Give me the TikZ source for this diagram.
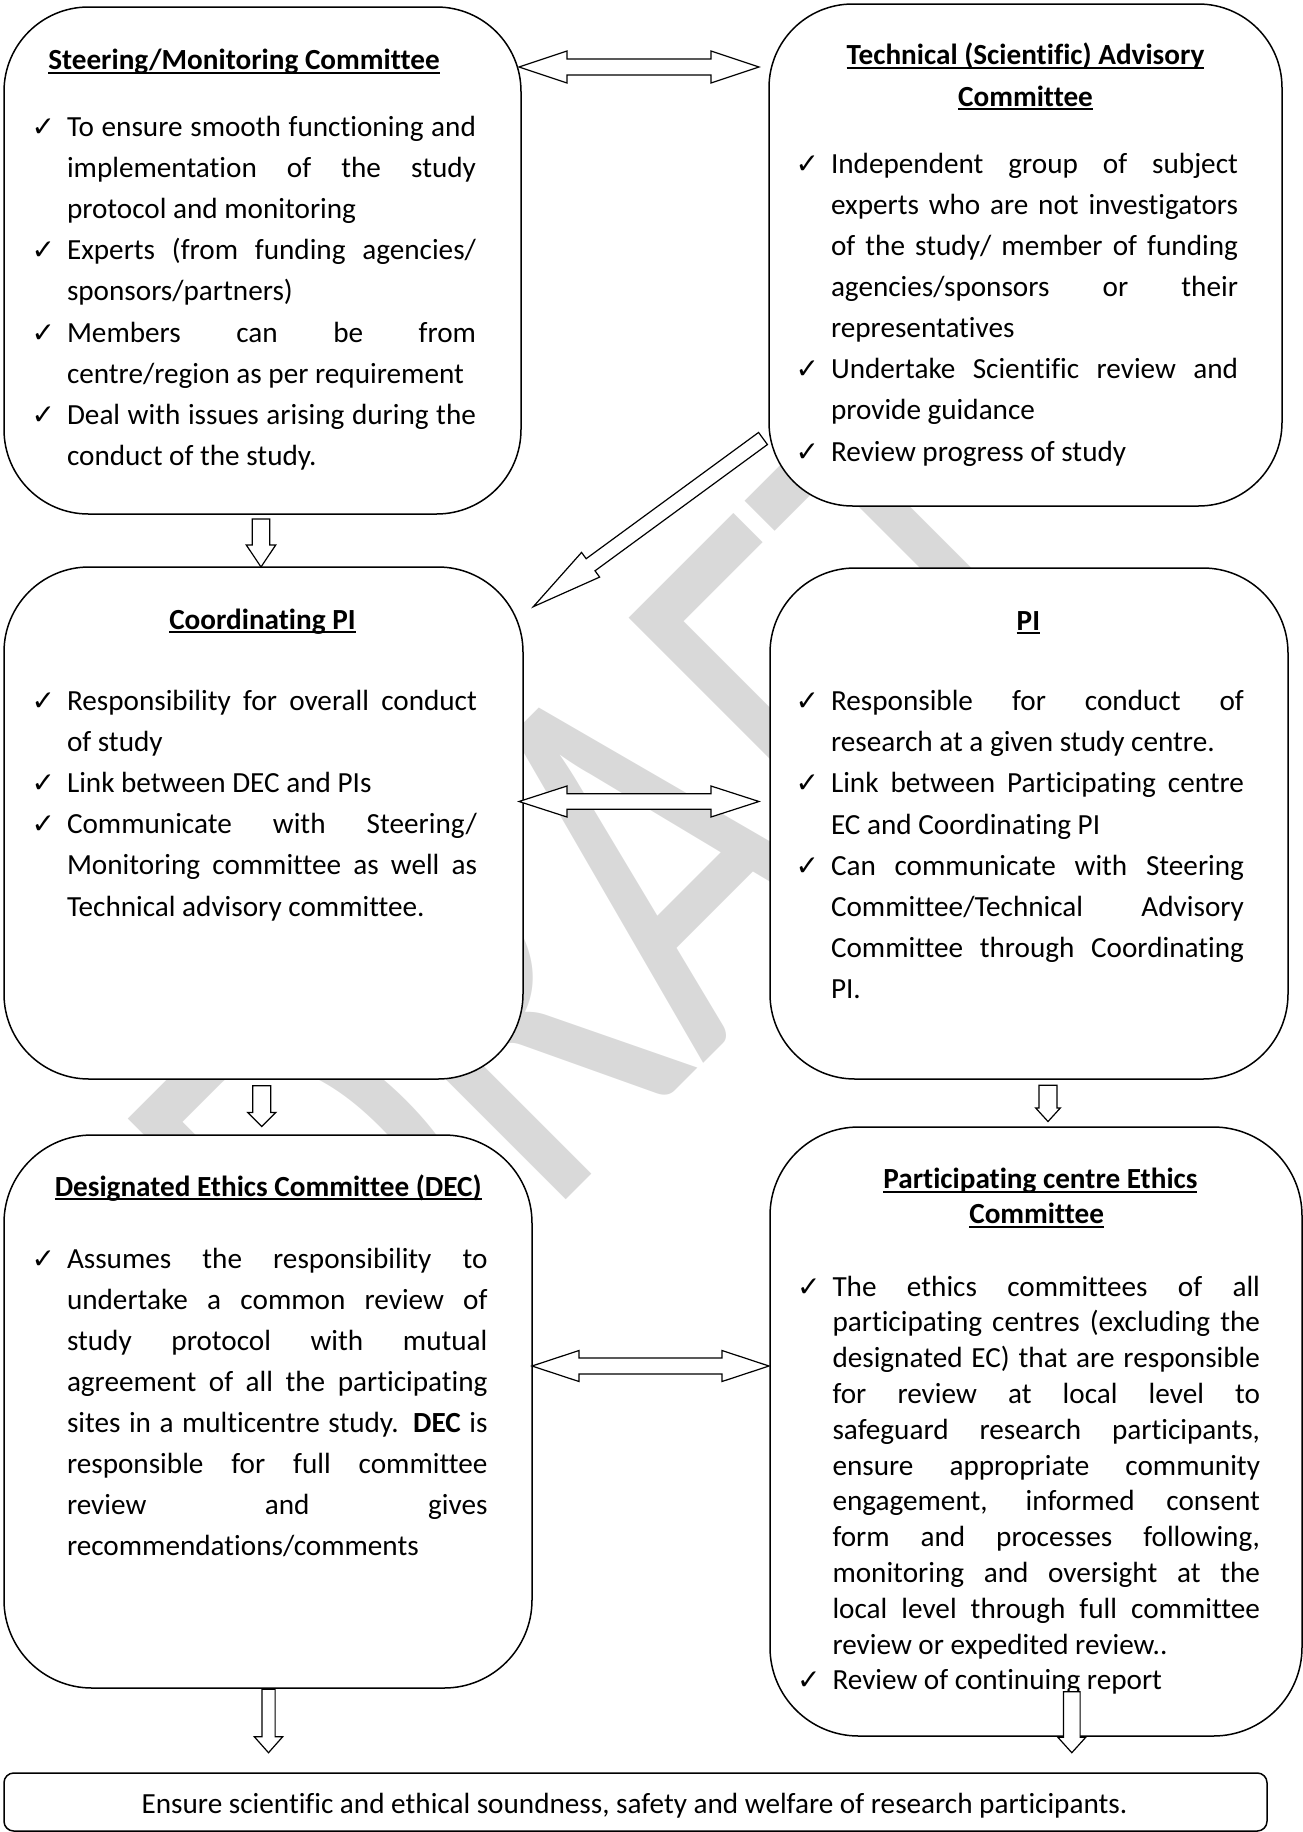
\documentclass[tikz,border=0pt]{standalone}
\usepackage{fontspec}
\setmainfont{Carlito}[Ligatures=NoCommon]
\newfontfamily\symf{DejaVu Sans}
\usetikzlibrary{calc}
\definecolor{wm}{RGB}{217,217,217}
\newdimen\tw
\newcommand\justln[1]{\hbox to\tw{#1}}
\newcommand\lastln[1]{\hbox{#1}}
\newcommand\ck{\llap{{\symf\fontsize{28}{28}\selectfont ✓}\hskip12pt}}
\newcommand\uline[1]{\setbox0=\hbox{#1}\rlap{\rule[-4.2pt]{\wd0}{2pt}}\box0}
\newcommand\itemsbox[3]{\vtop{\tw=#1\baselineskip=#2\lineskiplimit=-1000pt\lineskip=0pt #3}}
% single block arrow: tail, tip, shaft half width, head half width, head length
\newcommand\sarrow[5]{%
  \coordinate (sab) at ($(#2)!#5!(#1)$);
  \draw[blk] ($(#1)!#3!90:(#2)$) -- ($(sab)!#3!-90:(#1)$) -- ($(sab)!#4!-90:(#1)$) -- (#2)
    -- ($(sab)!#4!90:(#1)$) -- ($(sab)!#3!90:(#1)$) -- ($(#1)!#3!-90:(#2)$) -- cycle;}
% double block arrow: end 1, end 2, shaft half width, head half width, head length
\newcommand\darrow[5]{%
  \coordinate (da1) at ($(#1)!#5!(#2)$);
  \coordinate (da2) at ($(#2)!#5!(#1)$);
  \draw[blk] (#1) -- ($(da1)!#4!90:(#2)$) -- ($(da1)!#3!90:(#2)$) -- ($(da2)!#3!-90:(#1)$)
    -- ($(da2)!#4!-90:(#1)$) -- (#2) -- ($(da2)!#4!90:(#1)$) -- ($(da2)!#3!90:(#1)$)
    -- ($(da1)!#3!-90:(#2)$) -- ($(da1)!#4!-90:(#2)$) -- cycle;}
\tikzset{
  box/.style={draw, line width=1.5pt, fill=white, inner sep=0pt, outer sep=0pt, anchor=north west},
  txt/.style={inner sep=0pt, outer sep=0pt, font=\fontsize{29.2}{35.6}\selectfont},
  ttl/.style={txt, anchor=base, font=\fontsize{29.2}{35.6}\selectfont\bfseries},
  lst/.style={txt, anchor=base west},
  blk/.style={draw, fill=white, line width=1.2pt, line join=miter},
}
\begin{document}
\begin{tikzpicture}[x=1pt,y=-1pt]
\useasboundingbox (0,0) rectangle (1303,1832);
% watermark
\node[rotate=45, anchor=base west, inner sep=0pt, text=wm, font=\fontsize{408}{408}\selectfont] (wmk) at (368,1398.5) {\scalebox{1}[1.404]{DRAFT}};
% boxes
\node[box, minimum width=517pt, minimum height=507pt, rounded corners=84.5pt] (b1) at (4,7) {};
\node[box, minimum width=513pt, minimum height=502pt, rounded corners=83.7pt] (b2) at (769,4) {};
\node[box, minimum width=519pt, minimum height=512pt, rounded corners=85pt] (b3) at (4,567) {};
\node[box, minimum width=518pt, minimum height=511pt, rounded corners=85pt] (b4) at (770,568) {};
\node[box, minimum width=528pt, minimum height=553pt, rounded corners=88pt] (b5) at (4,1135) {};
\node[box, minimum width=532pt, minimum height=609pt, rounded corners=88.7pt] (b6) at (770,1127) {};
\node[box, minimum width=1263pt, minimum height=58pt, rounded corners=9.7pt] (b7) at (4,1773) {};
% titles
\node[ttl] (t1) at (244,69.5) {\uline{Steering/Monitoring Committee}};
\node[ttl] (t2a) at (1025.5,64.5) {\uline{Technical (Scientific) Advisory}};
\node[ttl] (t2b) at (1025.5,106) {\uline{Committee}};
\node[ttl] (t3) at (262.4,629) {\uline{Coordinating PI}};
\node[ttl] (t4) at (1028.4,630) {\uline{PI}};
\node[ttl] (t5) at (268.2,1196) {\uline{Designated Ethics Committee (DEC)}};
\node[ttl] (t6a) at (1040.4,1188.5) {\uline{Participating centre Ethics}};
\node[ttl] (t6b) at (1036.7,1223.5) {\uline{Committee}};
% lists
\node[lst] (l1) at (67,136.5) {\itemsbox{409pt}{41.1pt}{%
\justln{\ck To ensure smooth functioning and}
\justln{implementation of the study}
\lastln{protocol and monitoring}
\justln{\ck Experts (from funding agencies/}
\lastln{sponsors/partners)}
\justln{\ck Members can be from}
\lastln{centre/region as per requirement}
\justln{\ck Deal with issues arising during the}
\lastln{conduct of the study.}}};
\node[lst] (l2) at (831,173) {\itemsbox{407pt}{41.15pt}{%
\justln{\ck Independent group of subject}
\justln{experts who are not investigators}
\justln{of the study/ member of funding}
\justln{agencies/sponsors or their}
\lastln{representatives}
\justln{\ck Undertake Scientific review and}
\lastln{provide guidance}
\lastln{\ck Review progress of study}}};
\node[lst] (l3) at (67,710.5) {\itemsbox{410pt}{41.1pt}{%
\justln{\ck Responsibility for overall conduct}
\lastln{of study}
\lastln{\ck Link between DEC and PIs}
\justln{\ck Communicate with Steering/}
\justln{Monitoring committee as well as}
\lastln{Technical advisory committee.}}};
\node[lst] (l4) at (831,710.5) {\itemsbox{413pt}{41.2pt}{%
\justln{\ck Responsible for conduct of}
\lastln{research at a given study centre.}
\justln{\ck Link between Participating centre}
\lastln{EC and Coordinating PI}
\justln{\ck Can communicate with Steering}
\justln{Committee/Technical Advisory}
\justln{Committee through Coordinating}
\lastln{PI.}}};
\node[lst] (l5) at (67,1268) {\itemsbox{420.5pt}{41.1pt}{%
\justln{\ck Assumes the responsibility to}
\justln{undertake a common review of}
\justln{study protocol with mutual}
\justln{agreement of all the participating}
\justln{sites in a multicentre study. \textbf{DEC} is}
\justln{responsible for full committee}
\justln{review and gives}
\lastln{recommendations/comments}}};
\node[lst] (l6) at (832.5,1296) {\itemsbox{427.5pt}{35.8pt}{%
\justln{\ck The ethics committees of all}
\justln{participating centres (excluding the}
\justln{designated EC) that are responsible}
\justln{for review at local level to}
\justln{safeguard research participants,}
\justln{ensure appropriate community}
\justln{engagement, informed consent}
\justln{form and processes following,}
\justln{monitoring and oversight at the}
\justln{local level through full committee}
\lastln{review or expedited review..}
\lastln{\ck Review of continuing report}}};
\node[txt, anchor=base] (bt) at (634.5,1813) {Ensure scientific and ethical soundness, safety and welfare of research participants.};
% block arrows
\coordinate (a1l) at (519,67);      \coordinate (a1r) at (759,67);
\coordinate (a2t) at (261,519);     \coordinate (a2h) at (261,567);
\coordinate (a3t) at (763,438.5);   \coordinate (a3h) at (533.3,606.7);
\coordinate (a4l) at (519,801.5);   \coordinate (a4r) at (759,801.5);
\coordinate (a5t) at (261.8,1085.7);\coordinate (a5h) at (261.8,1126.5);
\coordinate (a6t) at (1048,1085.3); \coordinate (a6h) at (1048,1121.5);
\coordinate (a7l) at (532,1366);    \coordinate (a7r) at (769,1366);
\coordinate (a8t) at (268.5,1689.3);\coordinate (a8h) at (268.5,1752.7);
\coordinate (a9t) at (1071.8,1691.7);\coordinate (a9h) at (1071.8,1752.7);
\darrow{a1l}{a1r}{8pt}{16pt}{48pt}
\sarrow{a2t}{a2h}{8.8pt}{14.7pt}{22pt}
\sarrow{a3t}{a3h}{7.5pt}{15.3pt}{71pt}
\darrow{a4l}{a4r}{7.7pt}{15.5pt}{48pt}
\sarrow{a5t}{a5h}{9pt}{14pt}{14pt}
\sarrow{a6t}{a6h}{9pt}{12.3pt}{13.5pt}
\darrow{a7l}{a7r}{8pt}{15.5pt}{47pt}
\sarrow{a8t}{a8h}{6.6pt}{14.2pt}{16pt}
\sarrow{a9t}{a9h}{8.3pt}{14pt}{15.5pt}
\end{tikzpicture}
\end{document}
